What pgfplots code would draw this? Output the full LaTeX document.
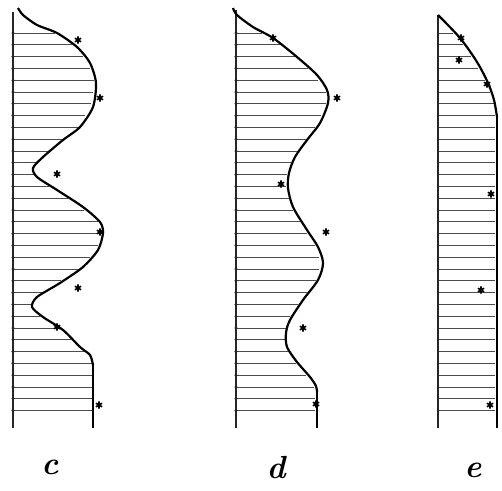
\documentclass[border=0pt]{standalone}
\usepackage{pgfplots}
\pgfplotsset{compat=1.18}

% hatch lengths, measured from each panel's left line (pixels of the scan)
\usepackage{pgfplotstable}
\pgfplotstableread{
y     c    d     e
33.0  42   26    15
44.8  59   44    25
56.6  70   59    33
68.4  77   72    40
80.2  81   82    46.5
92.0  80   89.5  52
103.8 78   90    55.5
115.6 72   85    57
127.4 65   79    57
139.2 49   69.5  57
151.0 35   61    57
162.8 23   55    57
174.6 21   51    57
186.4 36   50    57
198.2 55   52.5  57
210.0 71   57    57
221.8 85   64    57
233.6 88   71    57
245.4 85   79    57
257.2 77   83    57
269.0 65   83    57
280.8 48   80    57
292.6 29   71    57
304.4 18   62    57
316.2 27   54    57
328.0 45   49.5  57
339.8 58   48.5  57
351.6 74   52    57
363.4 80   60    57
375.2 80   70    57
387.0 80   78    57
398.8 80   79    57
410.6 80   79    57
}\hatch

\begin{document}
\begin{tikzpicture}
\useasboundingbox (0,0) rectangle (251pt,-245.5pt);
\pgfplotsset{
  panel/.style={scale only axis, width=251pt, height=245.5pt,
    ymin=0, ymax=491, y dir=reverse, hide axis, clip=false,
    anchor=north west, at={(0,0)}},
  hatchline/.style={xcomb, black!70, line width=0.5pt},
  tickdot/.style={only marks, mark=*, mark size=0.55pt, black!85},
}

% panel c hatching
\begin{axis}[panel, xmin=-13, xmax=489]
  \addplot[hatchline] table[x=c, y=y] {\hatch};
  \addplot[tickdot] table[x expr=0, y=y] {\hatch};
\end{axis}
% panel d hatching
\begin{axis}[panel, xmin=-236, xmax=266]
  \addplot[hatchline] table[x=d, y=y] {\hatch};
  \addplot[tickdot] table[x expr=0, y=y] {\hatch};
\end{axis}
% panel e hatching
\begin{axis}[panel, xmin=-438, xmax=64]
  \addplot[hatchline] table[x=e, y=y] {\hatch};
\end{axis}

\begin{axis}[panel, xmin=0, xmax=502]
  % left lines
  \addplot[black!85, line width=0.6pt] coordinates {(13,12) (13,428)};
  \addplot[black!85, line width=0.6pt] coordinates {(236,10) (236,428)};
  \addplot[black!85, line width=0.6pt] coordinates {(438,15) (438,428)};

  % profile c
  \addplot[black, line width=1.1pt, smooth, tension=0.45] coordinates {
    (18,8) (23,15) (37,25) (57,33) (77,47) (90,63) (96,83) (93,107)
    (80,127) (63,140) (43,157) (33,168) (37,177) (57,190) (83,207)
    (100,222) (103,233) (98,250) (83,267) (60,283) (37,297) (32,307)
    (43,317) (63,330) (80,347) (90,355) (93,365)};
  \addplot[black, line width=1.1pt] coordinates {(93,365) (93,428)};

  % profile d
  \addplot[black, line width=1.1pt, smooth, tension=0.5] coordinates {
    (233,8) (237,15) (253,27) (273,38) (297,57) (317,75) (327,90)
    (328,103) (320,123) (307,140) (295,157) (289,173) (288,188)
    (293,207) (307,230) (318,247) (323,263) (318,280) (303,300)
    (290,320) (286,333) (287,347) (297,362) (310,377) (316,386) (317,392)};
  \addplot[black, line width=1.1pt] coordinates {(317,392) (317,428)};

  % profile e
  \addplot[black, line width=1.1pt, smooth] coordinates {
    (438,15) (460,38) (477,62) (488,83) (494,100) (497,117)};
  \addplot[black, line width=1.1pt] coordinates {(497,117) (497,428)};

  % measured points
  \addplot[only marks, mark=asterisk, mark size=1.8pt, black, line width=0.8pt]
    coordinates {(78,40) (100,98) (57,174) (100,232) (78,288) (57,327) (99,405)
                 (273,38) (337,98) (281,184) (326,232) (303,328) (316,404)
                 (461,38) (459,60) (487,84) (491,194) (481,290) (490,405)};

  \node[font=\fontsize{16}{16}\selectfont\bfseries\itshape] at (axis cs:50,467) {c};
  \node[font=\fontsize{16}{16}\selectfont\bfseries\itshape] at (axis cs:276,467) {d};
  \node[font=\fontsize{16}{16}\selectfont\bfseries\itshape] at (axis cs:473,470) {e};
\end{axis}
\end{tikzpicture}
\end{document}
